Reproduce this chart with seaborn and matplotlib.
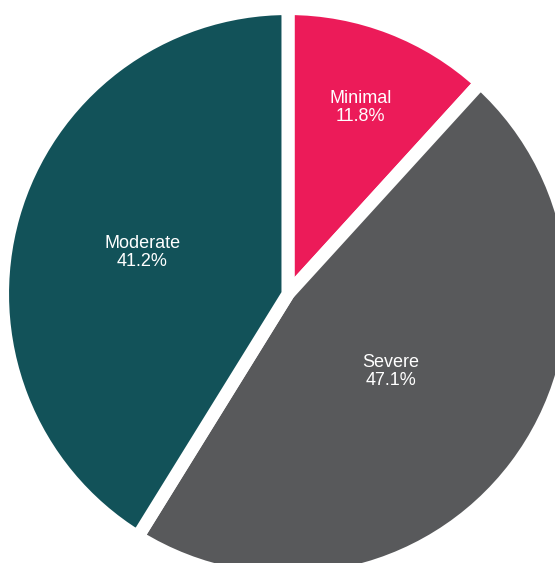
import numpy as np
import matplotlib
matplotlib.use("Agg")
import matplotlib.pyplot as plt
import seaborn as sns

# Severity groups and patient counts
categories = ["Minimal", "Severe", "Moderate"]
counts = [2, 8, 7]
colors = ["#EC1B59", "#58595B", "#125259"]

# Radial placement of each label inside its wedge (fraction of radius)
label_radius = [0.70, 0.45, 0.53]

sns.set_theme(style="white")
plt.rcParams["font.family"] = ["Liberation Sans", "DejaVu Sans"]

fig = plt.figure(figsize=(5.55, 5.63), dpi=100)
ax = fig.add_axes([0, 0, 1, 1])

wedges, _ = ax.pie(
    counts,
    colors=colors,
    startangle=90,
    counterclock=False,
    radius=1.0,
    wedgeprops=dict(edgecolor="white", linewidth=9.4, joinstyle="miter"),
)

total = sum(counts)
start = 90.0
for name, c, rf in zip(categories, counts, label_radius):
    span = 360.0 * c / total
    mid = np.deg2rad(start - span / 2)
    start -= span
    pct = 100.0 * c / total
    ax.text(rf * np.cos(mid), rf * np.sin(mid), f"{name}\n{pct:.1f}%",
            ha="center", va="center", color="white", fontsize=13,
            linespacing=1.1)

ax.set_xlim(-1.0088, 0.9352)
ax.set_ylim(-0.9422, 1.0298)
ax.set_aspect("auto")
ax.axis("off")

fig.savefig("out.png", dpi=100, facecolor="white")
